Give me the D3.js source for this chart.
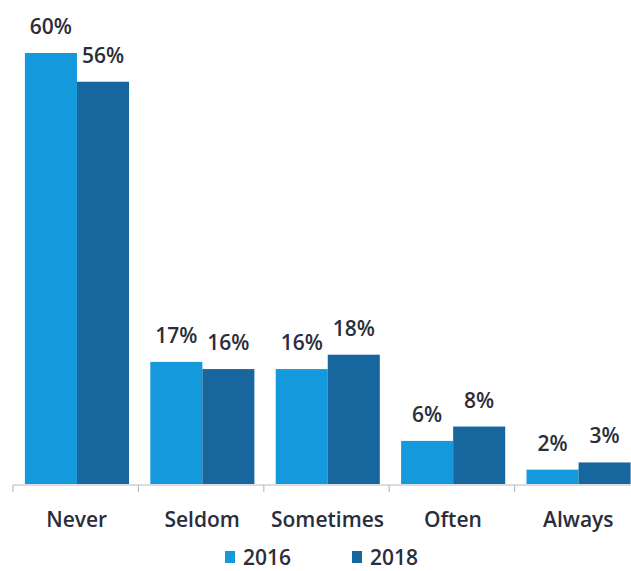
<!DOCTYPE html>
<html>
<head>
<meta charset="utf-8">
<script src="https://cdn.jsdelivr.net/npm/d3@7"></script>
<style>
  html, body { margin: 0; padding: 0; background: #ffffff; }
  svg { display: block; }
  text { font-family: "Open Sans", "DejaVu Sans", sans-serif; font-weight: 600; fill: #2b2d3b; }
</style>
</head>
<body>
<svg id="chart" width="631" height="571"></svg>
<script>
// Frequency categories and the share of respondents for each survey year
const categories = ["Never", "Seldom", "Sometimes", "Often", "Always"];
const seriesNames = ["2016", "2018"];
const values2016 = [60, 17, 16, 6, 2];
const values2018 = [56, 16, 18, 8, 3];
const seriesColors = ["#1499dd", "#17679e"];

const width = 631, height = 571;
const margin = { top: 53, right: -9, bottom: 87, left: 13 };
const baseline = height - margin.bottom;

const svg = d3.select("#chart");

const rows = categories.map((c, i) => ({ cat: c, vals: [values2016[i], values2018[i]] }));

// One band per category, bars of the two years side by side inside it
const x0 = d3.scaleBand()
  .domain(categories)
  .range([margin.left, width - margin.right])
  .paddingInner(0).paddingOuter(0);

const bw = x0.bandwidth();
const x1 = d3.scaleBand()
  .domain(seriesNames)
  .range([bw * 0.095, bw * 0.925])
  .padding(0);

const y = d3.scaleLinear()
  .domain([0, 60])
  .range([baseline, margin.top]);

// Bars
const groups = svg.append("g").selectAll("g")
  .data(rows)
  .join("g")
  .attr("transform", d => `translate(${x0(d.cat)},0)`);

groups.selectAll("rect")
  .data(d => d.vals.map((v, k) => ({ key: seriesNames[k], v, k })))
  .join("rect")
  .attr("x", d => x1(d.key))
  .attr("y", d => y(d.v))
  .attr("width", x1.bandwidth())
  .attr("height", d => y(0) - y(d.v))
  .attr("fill", d => seriesColors[d.k]);

// Value labels above each bar
groups.selectAll("text.val")
  .data(d => d.vals.map((v, k) => ({ key: seriesNames[k], v, k })))
  .join("text")
  .attr("class", "val")
  .attr("x", d => x1(d.key) + x1.bandwidth() / 2)
  .attr("y", d => y(d.v) - 19)
  .attr("text-anchor", "middle")
  .style("font-size", "21px")
  .text(d => d.v + "%");

// Category axis: baseline with ticks at band boundaries
const axis = svg.append("g").attr("stroke", "#b9bcc2").attr("stroke-width", 1.2);
axis.append("line")
  .attr("x1", margin.left).attr("x2", width)
  .attr("y1", baseline + 1).attr("y2", baseline + 1);
const edges = categories.map(c => x0(c)).concat([x0.range()[1]]);
axis.selectAll("line.tick")
  .data(edges)
  .join("line")
  .attr("class", "tick")
  .attr("x1", d => d).attr("x2", d => d)
  .attr("y1", baseline + 1).attr("y2", baseline + 8);

svg.append("g").selectAll("text")
  .data(categories)
  .join("text")
  .attr("x", d => x0(d) + bw / 2 + 1)
  .attr("y", baseline + 43)
  .attr("text-anchor", "middle")
  .style("font-size", "21px")
  .text(d => d);

// Legend
const legend = svg.append("g").attr("transform", "translate(225,551)");
const items = legend.selectAll("g")
  .data(seriesNames)
  .join("g")
  .attr("transform", (d, i) => `translate(${i * 127},0)`);
items.append("rect")
  .attr("width", 10).attr("height", 12)
  .attr("fill", (d, i) => seriesColors[i]);
items.append("text")
  .attr("x", 18).attr("y", 14)
  .style("font-size", "21px")
  .text(d => d);
</script>
</body>
</html>
